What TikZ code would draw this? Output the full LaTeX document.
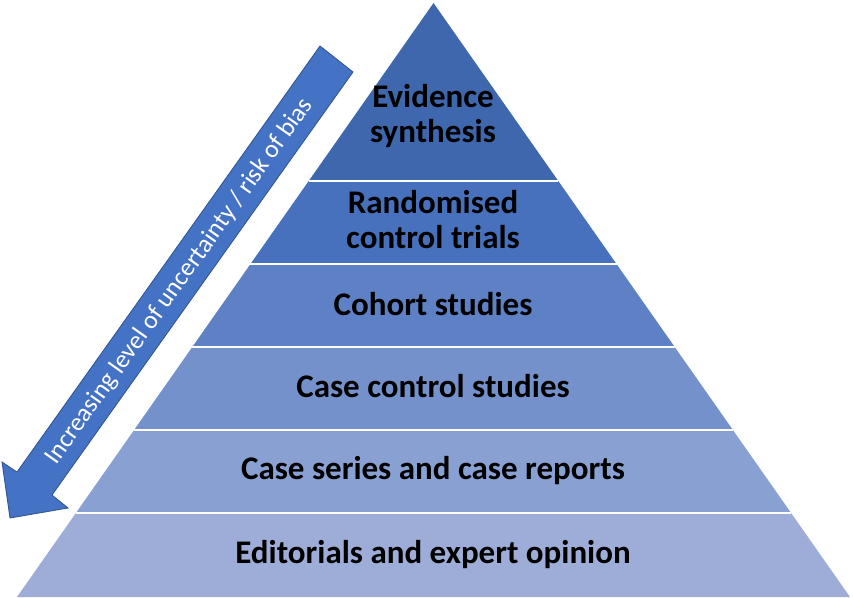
\documentclass[tikz,border=0pt]{standalone}
\usepackage{fontspec}
\setmainfont{Carlito}
\usetikzlibrary{calc}
\definecolor{layA}{HTML}{3F67AE}
\definecolor{layB}{HTML}{4771BD}
\definecolor{layC}{HTML}{5E80C5}
\definecolor{layD}{HTML}{7591CB}
\definecolor{layE}{HTML}{89A0D2}
\definecolor{layF}{HTML}{9EADD8}
\definecolor{arrfill}{HTML}{4472C4}
\definecolor{arredge}{HTML}{2F528F}
\tikzset{
  lab/.style={font=\fontsize{33}{36}\selectfont\bfseries, text=black, inner sep=0pt, anchor=base},
  arrtext/.style={font=\fontsize{25.5}{28}\selectfont, text=white, inner sep=0pt},
  sepline/.style={draw=white, line width=2pt},
  bigarrow/.style={fill=arrfill, draw=arredge, line width=0.8pt, line join=miter}
}
\begin{document}
\begin{tikzpicture}[x=1pt,y=-1pt]
\useasboundingbox (0,0) rectangle (853,597);
\fill[white] (0,0) rectangle (853,597);
\coordinate (A) at (433.5,3);
\coordinate (BL) at (17,597);
\coordinate (BR) at (850,597);
\coordinate (L1) at ($(A)!0.2997!(BL)$); \coordinate (R1) at ($(A)!0.2997!(BR)$);
\coordinate (L2) at ($(A)!0.4394!(BL)$); \coordinate (R2) at ($(A)!0.4394!(BR)$);
\coordinate (L3) at ($(A)!0.5791!(BL)$); \coordinate (R3) at ($(A)!0.5791!(BR)$);
\coordinate (L4) at ($(A)!0.7189!(BL)$); \coordinate (R4) at ($(A)!0.7189!(BR)$);
\coordinate (L5) at ($(A)!0.8586!(BL)$); \coordinate (R5) at ($(A)!0.8586!(BR)$);
% layers
\fill[layA] (A) -- (R1) -- (L1) -- cycle;
\fill[layB] (L1) -- (R1) -- (R2) -- (L2) -- cycle;
\fill[layC] (L2) -- (R2) -- (R3) -- (L3) -- cycle;
\fill[layD] (L3) -- (R3) -- (R4) -- (L4) -- cycle;
\fill[layE] (L4) -- (R4) -- (R5) -- (L5) -- cycle;
\fill[layF] (L5) -- (R5) -- (BR) -- (BL) -- cycle;
% separators
\draw[sepline] (L1) -- (R1);
\draw[sepline] (L2) -- (R2);
\draw[sepline] (L3) -- (R3);
\draw[sepline] (L4) -- (R4);
\draw[sepline] (L5) -- (R5);
% labels
\node[lab] (ev1) at (433,107) {Evidence};
\node[lab] (ev2) at (433,142) {synthesis};
\node[lab] (rc1) at (433,213) {Randomised};
\node[lab] (rc2) at (433,248) {control trials};
\node[lab] (coh) at (433,315) {Cohort studies};
\node[lab] (ccs) at (433,397) {Case control studies};
\node[lab] (csr) at (433,479) {Case series and case reports};
\node[lab] (eeo) at (433,563) {Editorials and expert opinion};
% arrow
\coordinate (T1) at (320,46);
\coordinate (T2) at (353,72);
\coordinate (S1) at (17,472);
\coordinate (S2) at (52,495);
\coordinate (W1) at (2,462);
\coordinate (W2) at (68,508);
\coordinate (P) at (10,518);
\draw[bigarrow] (T1) -- (S1) -- (W1) -- (P) -- (W2) -- (S2) -- (T2) -- cycle;
\node[arrtext, rotate=54.6] (arrlab) at (179.5,281.5) {Increasing level of uncertainty / risk of bias};
\end{tikzpicture}
\end{document}
